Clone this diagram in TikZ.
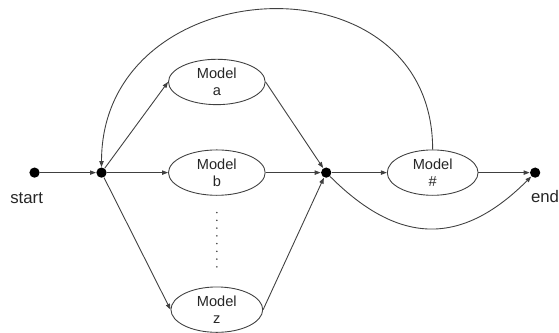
\documentclass[tikz,border=0pt]{standalone}
\usepackage{fontspec}
\setmainfont{Liberation Sans}
\usepackage{tikz}
\usetikzlibrary{positioning,arrows.meta,shapes.geometric}

\begin{document}
\begin{tikzpicture}[>={Triangle[length=3pt,width=2.2pt]}, line width=0.45pt, every node/.style={font=\fontsize{7.4}{8.6}\selectfont, text=black!85}, model/.style={draw=black!75, ellipse, minimum width=49pt, minimum height=23pt, inner sep=0pt, align=center}, dot/.style={circle, fill=black, inner sep=0pt, minimum size=5.2pt}, lbl/.style={font=\fontsize{8.5}{10}\selectfont, inner sep=0pt}, link/.style={draw=black!75, ->}]
\node[dot] (start) {};
\node[dot, right=28.3pt of start] (split) {};
\node[model, right=30.9pt of split] (b) {Model\\b};
\node[model, above=22.5pt of b] (a) {Model\\a};
\node[model, below=46pt of b, minimum width=46.5pt] (z) {Model\\z};
\node[dot, right=27.9pt of b] (merge) {};
\node[model, right=27.9pt of merge, minimum width=46pt] (hash) {Model\\\#};
\node[dot, right=25.9pt of hash] (end) {};
\node[lbl, below=7pt of start, xshift=-4pt] (startlbl) {start};
\node[lbl, below=6pt of end, xshift=5pt] (endlbl) {end};
% frame of the picture
\useasboundingbox ([xshift=-17.5pt,yshift=87.5pt]start.center) rectangle ([xshift=262pt,yshift=-77pt]start.center);
\draw[link] (start)--(split); \draw[link] (split)--(a.west); \draw[link] (split)--(b); \draw[link] (split)--(z.west);
\draw[link] (a.east)--(merge); \draw[link] (b)--(merge); \draw[link] (z.east)--(merge);
\draw[link] (merge)--(hash); \draw[link] (hash)--(end);
\draw[link] (hash.north) to[out=90, in=90, looseness=1.53] (split);
\draw[link] (merge) to[out=-45, in=-135, looseness=1.25] (end);
\foreach \k in {1,...,8} \fill[black!75] ([yshift=-4.6pt-\k*3.93pt]b.south) circle (0.45pt);
\end{tikzpicture}
\end{document}
